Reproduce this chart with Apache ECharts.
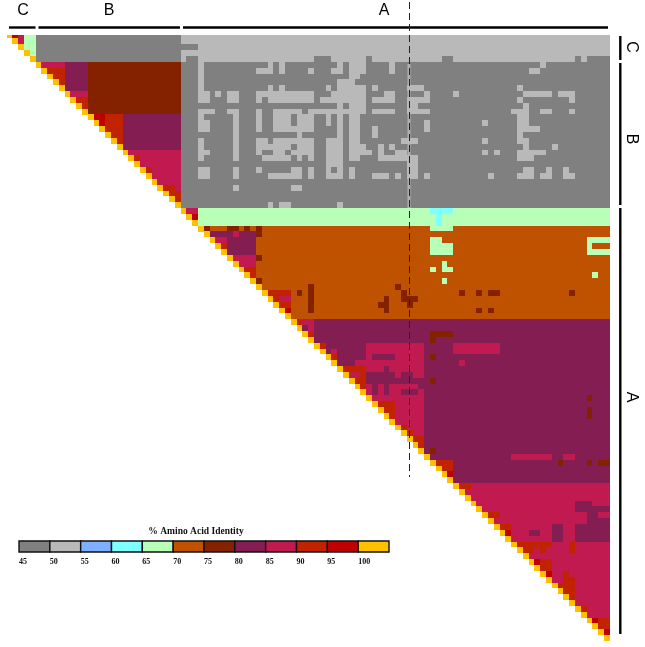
<!DOCTYPE html>
<html>
<head>
<meta charset="utf-8">
<style>
  html, body { margin: 0; padding: 0; background: #fff; }
  #chart { width: 645px; height: 647px; }
</style>
</head>
<body>
<div id="chart"></div>
<script src="https://cdn.jsdelivr.net/npm/echarts@6/dist/echarts.min.js"></script>
<script>
// % identity bins
const binStarts = [45, 50, 55, 60, 65, 70, 75, 80, 85, 90, 95, 100];
const binColors = ['#808080', '#b9b9b9', '#7fb0ff', '#80ffff', '#b8ffb8', '#bf5200',
                   '#842200', '#841e52', '#c01a50', '#c12200', '#c00000', '#ffc000'];
const legendTitle = '% Amino Acid Identity';

// one value per bin
const GREY = 47, LIGHT = 52, CYAN = 62, GREEN = 67, ORANGE = 72, BROWN = 77;
const PURPLE = 82, CRIMSON = 87, RED = 92, DARKRED = 97, SELF = 100;

const sequenceCount = 104;
const clusterA = 30; // first sequence of cluster A

// [rowFrom, rowTo, colFrom, colTo, value], later ones paint over earlier ones
const baseBlocks = [
  // cluster C
  [0, 0, 1, 1, DARKRED], [0, 1, 2, 2, CRIMSON], [0, 2, 3, 4, GREEN], [3, 3, 4, 4, GREEN],
  [0, 4, 5, 29, GREY], [0, 4, 30, 103, LIGHT], [5, 29, 30, 103, GREY],
  // cluster B
  [5, 13, 14, 29, BROWN], [5, 5, 6, 9, CRIMSON], [6, 6, 7, 9, RED], [7, 7, 8, 9, RED], [8, 8, 9, 9, RED],
  [5, 9, 10, 13, PURPLE], [10, 10, 11, 13, CRIMSON], [11, 11, 12, 13, RED], [12, 12, 13, 13, RED],
  [14, 19, 20, 29, PURPLE], [14, 14, 15, 16, DARKRED], [14, 14, 17, 19, RED], [15, 15, 16, 16, DARKRED],
  [15, 15, 17, 19, RED], [16, 16, 17, 19, RED], [17, 17, 18, 19, RED], [18, 18, 19, 19, RED],
  [20, 29, 21, 29, CRIMSON], [21, 21, 22, 22, RED], [23, 23, 24, 24, RED],
  [26, 26, 27, 28, RED], [27, 27, 28, 29, RED], [28, 28, 29, 29, RED],
  // cluster A, big bands
  [30, 32, 33, 103, GREEN], [30, 30, 31, 32, CRIMSON], [31, 31, 32, 32, DARKRED],
  [33, 48, 33, 103, ORANGE], [49, 76, 49, 103, PURPLE], [77, 103, 77, 103, CRIMSON]
];

// grey rows of A vs B/C: the darker cells on row 2 and 4
const darkRuns = [
  [2, 2, 30, 32, GREY], [4, 4, 31, 32, GREY], [4, 4, 53, 55, GREY], [4, 4, 62, 62, GREY],
  [4, 4, 75, 76, GREY], [4, 4, 98, 98, GREY], [4, 4, 100, 103, GREY]
];

// row -> [from, to] column runs (counted from clusterA) that reach the 50-55 bin
const lightRuns = {
  5: [[3,3],[15,15],[17,17],[27,27],[29,31],[36,36],[62,62]],
  6: [[3,3],[13,15],[17,17],[22,22],[26,27],[29,31],[36,36],[60,61]],
  7: [[3,3],[29,30]],
  8: [[3,3],[27,29]],
  9: [[3,3],[15,15],[17,17],[25,25],[27,31],[33,33],[39,41],[58,58]],
  10: [[3,4],[6,6],[8,9],[13,22],[26,31],[35,36],[42,42],[47,47],[59,63],[65,67]],
  11: [[3,4],[8,9],[13,13],[15,22],[24,31],[33,36],[39,42],[58,58],[67,67]],
  12: [[27,27],[29,31],[39,40],[59,59]],
  13: [[3,5],[8,9],[13,13],[16,20],[22,31],[33,36],[39,42],[57,59],[62,63],[67,67]],
  14: [[3,3],[9,9],[13,13],[16,18],[20,22],[25,25],[27,27],[29,30],[58,59]],
  15: [[3,4],[9,9],[13,13],[16,18],[20,22],[25,25],[27,27],[29,30],[42,42],[52,52],[58,59]],
  16: [[3,4],[9,9],[13,13],[16,22],[27,27],[29,30],[33,33],[42,42],[58,61]],
  17: [[9,9],[20,20],[27,27],[29,30],[33,33],[58,58]],
  18: [[3,3],[9,9],[13,14],[16,22],[25,27],[29,30],[38,40],[52,52],[58,59]],
  19: [[3,3],[9,9],[13,18],[20,22],[25,27],[29,31],[34,34],[36,36],[59,59],[64,64]],
  20: [[3,4],[9,9],[13,13],[16,17],[19,22],[25,27],[29,32],[34,34],[37,38],[52,52],[54,54],[58,62]],
  21: [[3,3],[9,9],[14,18],[20,20],[22,22],[25,27],[29,30],[34,38],[39,40],[58,60]],
  22: [[25,27],[39,40]],
  23: [[3,4],[9,9],[13,13],[19,20],[22,22],[25,25],[27,27],[29,29],[39,40],[59,60],[63,63],[66,66]],
  24: [[3,4],[9,9],[15,20],[22,22],[25,27],[29,29],[33,35],[37,37],[39,40],[42,42],[53,53],[58,60],[62,63],[66,67]],
  26: [[9,9],[19,20]],
  29: [[15,15],[17,18],[27,27]]
};

// cells that differ from their band, same layout as baseBlocks
const orangePatches = [
  [30, 30, 73, 76, CYAN], [31, 32, 74, 74, CYAN],
  [33, 33, 73, 76, GREEN], [35, 35, 73, 74, GREEN], [36, 37, 73, 76, GREEN], [39, 39, 75, 75, GREEN],
  [40, 40, 73, 73, GREEN], [40, 40, 75, 76, GREEN], [42, 42, 75, 75, GREEN],
  [35, 37, 100, 103, GREEN], [36, 36, 101, 103, ORANGE], [41, 41, 101, 101, GREEN],
  [33, 33, 34, 34, BROWN], [33, 33, 38, 39, BROWN], [33, 33, 41, 41, BROWN], [33, 34, 43, 43, BROWN],
  [34, 34, 35, 42, PURPLE], [34, 34, 39, 39, CRIMSON], [35, 35, 36, 37, CRIMSON], [35, 37, 38, 42, PURPLE],
  [36, 36, 37, 37, RED], [38, 38, 39, 42, CRIMSON], [38, 38, 43, 43, BROWN], [39, 39, 40, 42, CRIMSON],
  [40, 40, 41, 42, RED], [41, 41, 42, 42, RED], [42, 42, 43, 43, BROWN],
  [44, 44, 45, 48, RED], [44, 44, 50, 50, BROWN], [45, 45, 46, 46, RED], [45, 45, 47, 48, CRIMSON],
  [46, 46, 47, 48, RED], [47, 47, 48, 48, DARKRED], [43, 47, 52, 52, BROWN],
  [43, 43, 67, 67, BROWN], [44, 44, 68, 68, BROWN], [45, 45, 68, 70, BROWN], [46, 46, 69, 69, BROWN],
  [45, 47, 65, 65, BROWN], [46, 46, 64, 64, BROWN],
  [44, 44, 78, 78, BROWN], [44, 44, 81, 81, BROWN], [44, 44, 83, 84, BROWN], [44, 44, 97, 97, BROWN],
  [47, 47, 81, 81, BROWN], [47, 47, 83, 83, BROWN]
];

const purplePatches = [
  [49, 49, 50, 50, RED], [49, 49, 51, 52, CRIMSON], [50, 50, 52, 52, CRIMSON], [51, 51, 52, 52, RED],
  [53, 53, 54, 54, RED], [54, 54, 56, 56, CRIMSON], [55, 55, 56, 56, RED],
  [53, 54, 62, 71, CRIMSON], [53, 54, 77, 84, CRIMSON],
  [55, 55, 62, 62, CRIMSON], [55, 55, 67, 71, CRIMSON],
  [56, 56, 60, 71, CRIMSON], [56, 56, 78, 78, CRIMSON],
  [57, 57, 58, 61, RED], [57, 57, 62, 64, CRIMSON], [57, 57, 66, 71, CRIMSON],
  [58, 58, 59, 60, CRIMSON], [58, 58, 61, 61, RED], [58, 58, 67, 67, CRIMSON], [58, 58, 70, 71, CRIMSON],
  [59, 59, 60, 61, RED],
  [60, 60, 61, 61, RED], [60, 60, 62, 62, CRIMSON], [60, 60, 64, 64, CRIMSON], [60, 60, 66, 70, CRIMSON],
  [61, 61, 62, 62, CRIMSON], [61, 61, 64, 64, CRIMSON], [61, 61, 66, 67, CRIMSON], [61, 61, 71, 71, CRIMSON],
  [62, 62, 63, 71, CRIMSON], [63, 63, 64, 66, RED], [63, 66, 67, 71, CRIMSON],
  [64, 64, 65, 66, RED], [65, 65, 66, 66, RED],
  [67, 67, 68, 68, RED], [67, 67, 69, 71, CRIMSON], [68, 68, 69, 69, RED], [68, 68, 70, 71, CRIMSON],
  [69, 69, 70, 71, RED], [70, 70, 71, 71, RED],
  [73, 73, 74, 76, RED], [74, 74, 75, 76, RED], [75, 75, 76, 76, DARKRED], [77, 77, 78, 79, RED],
  [51, 51, 73, 76, BROWN], [52, 52, 73, 73, BROWN], [55, 55, 73, 73, BROWN], [59, 59, 73, 73, BROWN],
  [71, 71, 73, 73, BROWN], [62, 62, 100, 100, BROWN], [64, 65, 100, 100, BROWN],
  [72, 72, 87, 93, CRIMSON], [72, 72, 96, 97, CRIMSON],
  [73, 73, 95, 95, BROWN], [73, 73, 100, 100, BROWN], [73, 73, 102, 103, BROWN]
];

const crimsonPatches = [
  [80, 81, 98, 100, PURPLE], [81, 81, 101, 103, PURPLE], [82, 82, 100, 101, PURPLE],
  [83, 83, 100, 102, PURPLE], [83, 83, 103, 103, PURPLE], [84, 86, 98, 103, PURPLE],
  [84, 86, 94, 95, PURPLE], [85, 85, 90, 91, PURPLE],
  [82, 82, 83, 84, RED], [84, 84, 85, 86, RED], [85, 85, 86, 86, DARKRED],
  [87, 87, 88, 93, RED], [88, 88, 89, 90, RED], [88, 88, 92, 92, RED], [87, 88, 97, 97, RED],
  [90, 90, 91, 91, DARKRED], [90, 90, 92, 93, RED], [91, 91, 92, 93, RED], [92, 92, 93, 93, DARKRED],
  [92, 92, 96, 96, RED], [93, 93, 96, 97, RED], [94, 94, 95, 97, RED], [95, 95, 96, 97, RED], [96, 96, 97, 97, RED],
  [98, 98, 99, 99, RED], [100, 100, 101, 101, DARKRED], [100, 101, 102, 103, RED], [102, 102, 103, 103, DARKRED]
];

// paint the table
const identity = [];
for (let r = 0; r < sequenceCount; r++) identity.push(new Array(sequenceCount).fill(null));
const paint = ([r0, r1, c0, c1, v]) => {
  for (let r = r0; r <= r1; r++) for (let c = c0; c <= c1; c++) identity[r][c] = v;
};
baseBlocks.forEach(paint);
darkRuns.forEach(paint);
Object.keys(lightRuns).forEach(row => {
  lightRuns[row].forEach(([a, b]) => paint([+row, +row, clusterA + a, clusterA + b, LIGHT]));
});
orangePatches.forEach(paint);
purplePatches.forEach(paint);
crimsonPatches.forEach(paint);

const cells = [];
for (let r = 0; r < sequenceCount; r++) {
  for (let c = r; c < sequenceCount; c++) {
    const v = c === r ? SELF : identity[r][c];
    if (v !== null) cells.push([c, r, v]);
  }
}
const sequenceIds = identity.map((_, i) => String(i));

const binColor = v => binColors[binStarts.findIndex(s => v >= s && v < s + 5)];

const chart = echarts.init(document.getElementById('chart'));

const blackLine = (x1, y1, x2, y2) => ({
  type: 'line',
  shape: { x1, y1, x2, y2 },
  style: { stroke: '#000', lineWidth: 2.4 },
  z: 20
});
const clusterText = (text, x, y, rotation) => ({
  type: 'text',
  x, y,
  rotation: rotation || 0,
  style: { text, fill: '#000', font: '16px "Liberation Sans", Arial, sans-serif', align: 'center', verticalAlign: 'middle' },
  z: 20
});

chart.setOption({
  animation: false,
  backgroundColor: '#fff',
  grid: [
    { left: 6.5, top: 32.6, width: 603.2, height: 608.4 },
    { left: 19, top: 541, width: 370, height: 11 }
  ],
  xAxis: [
    { type: 'category', gridIndex: 0, data: sequenceIds, show: false },
    {
      type: 'value', gridIndex: 1, min: 45, max: 105, interval: 5,
      splitLine: { show: false }, axisLine: { show: false }, axisTick: { show: false },
      axisLabel: {
        align: 'left', margin: 6, color: '#111', fontSize: 8, fontWeight: 'bold',
        fontFamily: '"Liberation Serif", "Times New Roman", serif',
        formatter: v => (v === 105 ? '' : v)
      }
    }
  ],
  yAxis: [
    { type: 'category', gridIndex: 0, data: sequenceIds, inverse: true, show: false },
    { type: 'value', gridIndex: 1, min: 0, max: 1, show: false }
  ],
  series: [
    {
      type: 'custom',
      xAxisIndex: 0,
      yAxisIndex: 0,
      data: cells,
      silent: true,
      progressive: 0,
      encode: { x: 0, y: 1 },
      // whole pixels so neighbouring cells leave no seam
      renderItem: (params, api) => {
        const mid = api.coord([api.value(0), api.value(1)]);
        const size = api.size([1, 1]);
        const x0 = Math.round(mid[0] - size[0] / 2), x1 = Math.round(mid[0] + size[0] / 2);
        const y0 = Math.round(mid[1] - size[1] / 2), y1 = Math.round(mid[1] + size[1] / 2);
        return {
          type: 'rect',
          shape: { x: x0, y: y0, width: x1 - x0, height: y1 - y0 },
          style: { fill: binColor(api.value(2)) }
        };
      }
    },
    {
      type: 'custom',
      xAxisIndex: 1,
      yAxisIndex: 1,
      silent: true,
      data: binStarts.map((s, i) => [s, i]),
      encode: { x: 0 },
      renderItem: (params, api) => {
        const from = api.coord([api.value(0), 1]);
        const to = api.coord([api.value(0) + 5, 0]);
        return {
          type: 'rect',
          shape: { x: from[0], y: from[1], width: to[0] - from[0], height: to[1] - from[1] },
          style: { fill: binColors[api.value(1)], stroke: '#111', lineWidth: 1.4 }
        };
      }
    }
  ],
  graphic: [
    // first row is cut by the frame of the figure
    { type: 'rect', shape: { x: 0, y: 29, width: 612, height: 6 }, style: { fill: '#fff' }, z: 10 },
    blackLine(9, 27.5, 35.5, 27.5), blackLine(38.5, 27.5, 180, 27.5), blackLine(183, 27.5, 608, 27.5),
    blackLine(620.3, 36, 620.3, 60), blackLine(620.3, 63, 620.3, 205), blackLine(620.3, 208, 620.3, 634),
    clusterText('C', 23, 11), clusterText('B', 109, 11), clusterText('A', 384, 11),
    clusterText('C', 631, 47, -Math.PI / 2), clusterText('B', 631, 139, -Math.PI / 2), clusterText('A', 631, 397, -Math.PI / 2),
    // pale halo the dashed line leaves on the grey part
    {
      type: 'line',
      shape: { x1: 409, y1: 64, x2: 409, y2: 208 },
      style: { stroke: '#b9b9b9', lineWidth: 3, opacity: 0.8 },
      z: 19
    },
    {
      type: 'line',
      shape: { x1: 409.5, y1: 2, x2: 409.5, y2: 477 },
      style: { stroke: '#222', lineWidth: 1, lineDash: [7, 4] },
      z: 20
    },
    {
      type: 'text',
      x: 196, y: 532,
      style: {
        text: legendTitle, fill: '#111', align: 'center', verticalAlign: 'middle',
        font: 'bold 9.5px "Liberation Serif", "Times New Roman", serif'
      },
      z: 20
    }
  ]
});
</script>
</body>
</html>
